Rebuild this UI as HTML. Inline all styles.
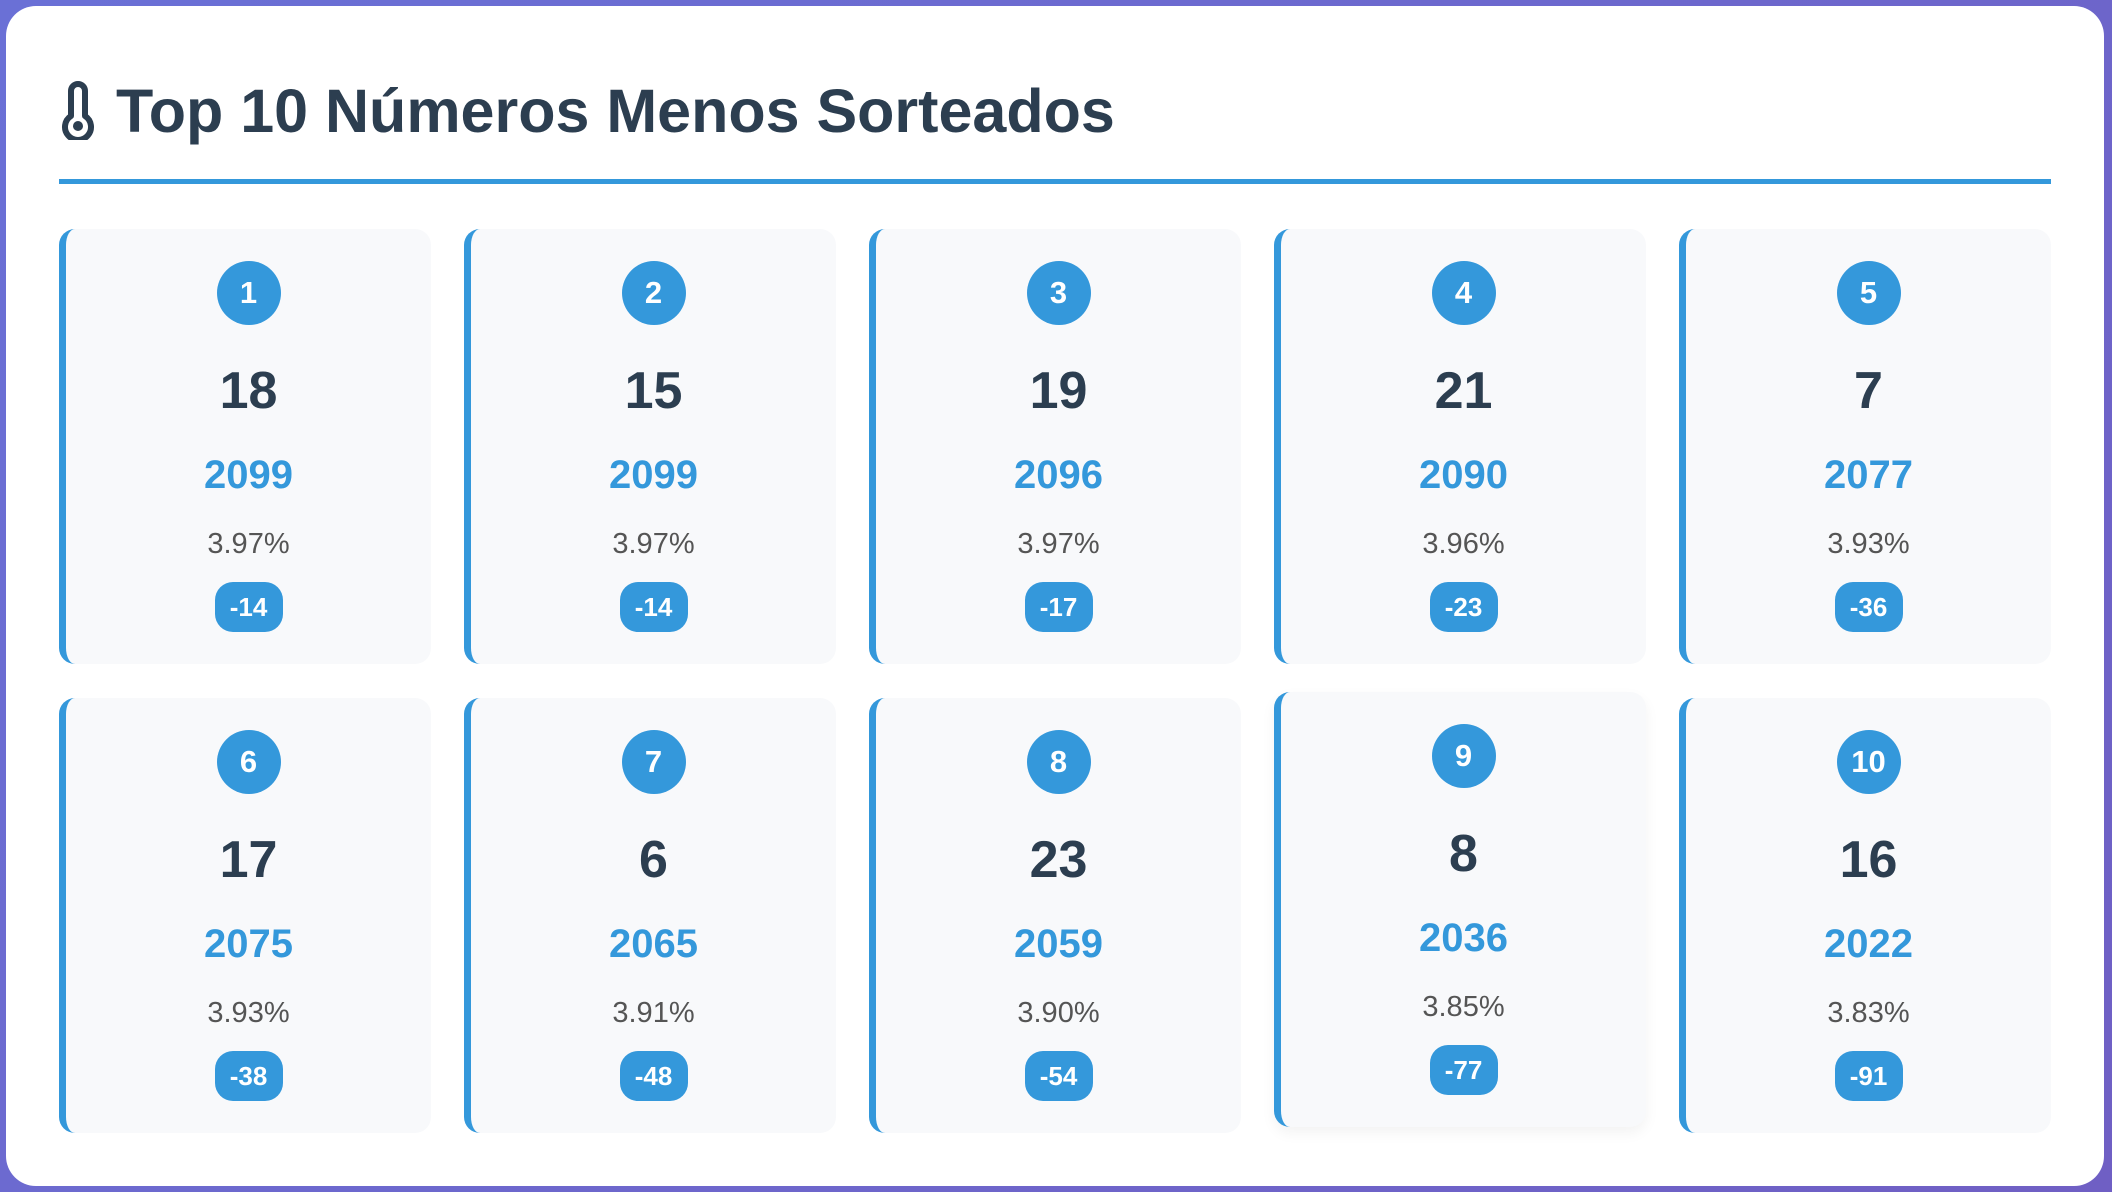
<!DOCTYPE html>
<html><head><meta charset="utf-8"><style>
*{margin:0;padding:0;box-sizing:border-box}
html,body{width:2112px;height:1192px;overflow:hidden}
body{background:linear-gradient(135deg,#6a70d6,#6f5fc4);font-family:"Liberation Sans",sans-serif;position:relative}
.panel{position:absolute;left:6px;top:6px;width:2098px;height:1180px;background:#fff;border-radius:30px}
.title{position:absolute;left:116px;top:72px;font-size:61px;font-weight:bold;color:#2c3e50;white-space:nowrap;line-height:78px}
.line{position:absolute;left:59px;top:179px;width:1992px;height:5px;background:#3498db}
.card{position:absolute;width:372px;height:435px;background:#f8f9fb;border-radius:16px;border-left:7px solid #3498db}
.c{position:absolute;left:0;right:0;text-align:center}
.badge{position:absolute;left:50%;margin-left:-32px;top:32px;width:64px;height:64px;border-radius:50%;background:#3498db;color:#fff;font-weight:bold;font-size:31px;line-height:64px;text-align:center}
.num{top:130px;font-size:52px;font-weight:bold;color:#2c3e50;line-height:64px}
.cnt{top:221px;font-size:40px;font-weight:bold;color:#3498db;line-height:50px}
.pct{top:297px;font-size:29px;color:#555;line-height:36px}
.pill{position:absolute;left:50%;margin-left:-34px;top:353px;width:68px;height:50px;border-radius:18px;background:#3498db;color:#fff;font-weight:bold;font-size:26px;line-height:50px;text-align:center}
</style></head><body>
<div class="panel"></div>
<svg style="position:absolute;left:60px;top:80px" width="36" height="60" viewBox="0 0 36 60">
<path d="M11 36 V11 a7 7 0 0 1 14 0 V36 a13 13 0 1 1 -14 0 Z" fill="none" stroke="#2c3e50" stroke-width="6" stroke-linejoin="round"/>
<circle cx="18" cy="46" r="5" fill="#2c3e50"/>
</svg>
<div class="title">Top 10 Números Menos Sorteados</div>
<div class="line"></div>

<div class="card" style="left:59px;top:229px"><div class="badge">1</div><div class="c num">18</div><div class="c cnt">2099</div><div class="c pct">3.97%</div><div class="pill">-14</div></div>
<div class="card" style="left:464px;top:229px"><div class="badge">2</div><div class="c num">15</div><div class="c cnt">2099</div><div class="c pct">3.97%</div><div class="pill">-14</div></div>
<div class="card" style="left:869px;top:229px"><div class="badge">3</div><div class="c num">19</div><div class="c cnt">2096</div><div class="c pct">3.97%</div><div class="pill">-17</div></div>
<div class="card" style="left:1274px;top:229px"><div class="badge">4</div><div class="c num">21</div><div class="c cnt">2090</div><div class="c pct">3.96%</div><div class="pill">-23</div></div>
<div class="card" style="left:1679px;top:229px"><div class="badge">5</div><div class="c num">7</div><div class="c cnt">2077</div><div class="c pct">3.93%</div><div class="pill">-36</div></div>

<div class="card" style="left:59px;top:698px"><div class="badge">6</div><div class="c num">17</div><div class="c cnt">2075</div><div class="c pct">3.93%</div><div class="pill">-38</div></div>
<div class="card" style="left:464px;top:698px"><div class="badge">7</div><div class="c num">6</div><div class="c cnt">2065</div><div class="c pct">3.91%</div><div class="pill">-48</div></div>
<div class="card" style="left:869px;top:698px"><div class="badge">8</div><div class="c num">23</div><div class="c cnt">2059</div><div class="c pct">3.90%</div><div class="pill">-54</div></div>
<div class="card" style="left:1274px;top:692px;box-shadow:0 6px 14px rgba(0,0,0,0.05)"><div class="badge">9</div><div class="c num">8</div><div class="c cnt">2036</div><div class="c pct">3.85%</div><div class="pill">-77</div></div>
<div class="card" style="left:1679px;top:698px"><div class="badge">10</div><div class="c num">16</div><div class="c cnt">2022</div><div class="c pct">3.83%</div><div class="pill">-91</div></div>
</body></html>
